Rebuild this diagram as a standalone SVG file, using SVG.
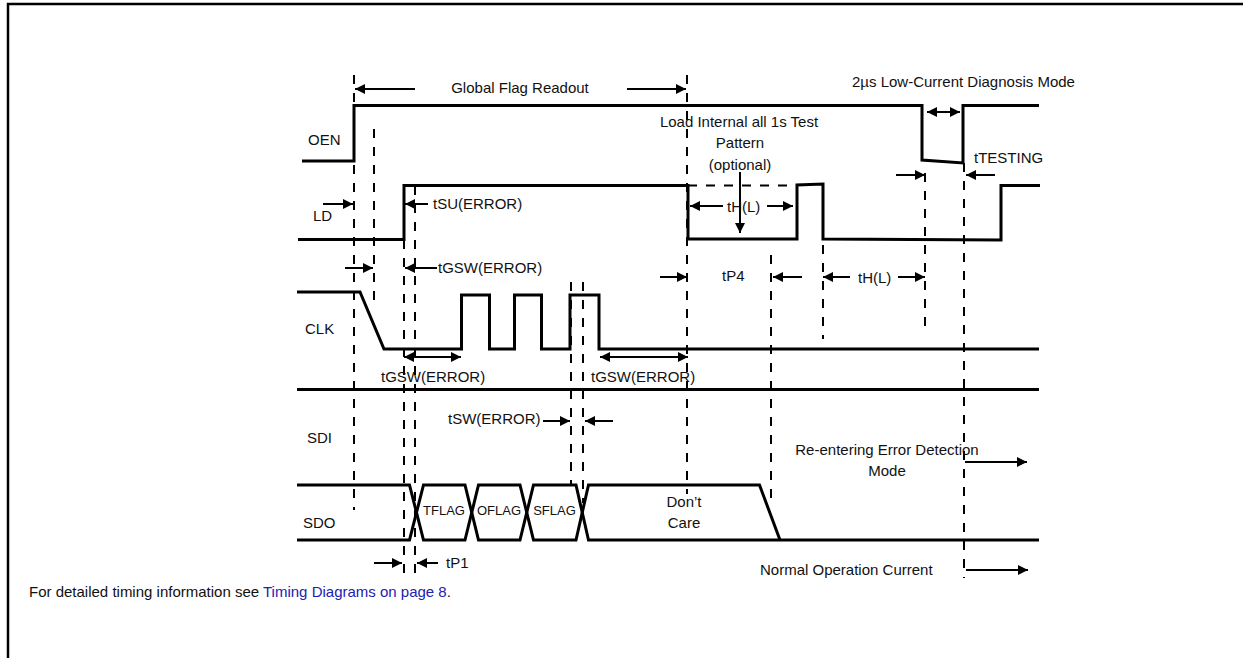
<svg xmlns="http://www.w3.org/2000/svg" width="1243" height="658" viewBox="0 0 1243 658">
<style>
.sig{fill:none;stroke:#000;stroke-width:3;stroke-linejoin:miter}
.dash{fill:none;stroke:#000;stroke-width:2;stroke-dasharray:9 9}
.arr{stroke:#000;stroke-width:2;marker-end:url(#ah)}
.dbl{stroke:#000;stroke-width:2;marker-end:url(#ah);marker-start:url(#ah)}
text{font-family:"Liberation Sans",Arial,sans-serif;font-size:15px;fill:#111}
.sm{font-size:13px}
.mid{text-anchor:middle}
.link{fill:#2222b0}
</style>
<defs>
<marker id="ah" viewBox="0 0 10 10" refX="10" refY="5" markerWidth="10" markerHeight="10" markerUnits="userSpaceOnUse" orient="auto-start-reverse">
<path d="M0,0 L10,5 L0,10 z" fill="#000"/>
</marker>
</defs>
<rect width="1243" height="658" fill="#fff"/>
<path d="M8,658 V4 H1243" fill="none" stroke="#000" stroke-width="2.5"/>

<g id="OEN">
<text x="308" y="145">OEN</text>
<path class="sig" d="M302,161 H354 V105.5 H922 V160 L963,163 V105.5 H1039"/>
</g>
<g id="LD">
<text x="313" y="221">LD</text>
<path class="sig" d="M298,239.5 H404 V185.5 H688 V239 H797 V185 L823,184 V239 L1001,240 V185.5 H1040"/>
<path class="dash" d="M688,185.5 H797" stroke-width="2.5"/>
</g>
<g id="CLK">
<text x="305" y="334">CLK</text>
<path class="sig" d="M297,292 H360 L384,349 H461.5 V295 H489.5 V349 H514.5 V295 H541.5 V349 H570 V295 H599 V349 H1039"/>
</g>
<g id="SDI">
<text x="307" y="443">SDI</text>
<path class="sig" d="M297,389.5 H1039"/>
</g>
<g id="SDO">
<text x="303" y="528">SDO</text>
<path class="sig" d="M297,485 H409.5 L423.5,540 H465 L478.5,485 H520 L533.5,540 H576 L588.5,485 H759.5 L780,540"/>
<path class="sig" d="M297,540 H409.5 L423.5,485 H465 L478.5,540 H520 L533.5,485 H576 L588.5,540 H1039"/>
<text class="sm mid" x="444" y="515">TFLAG</text>
<text class="sm mid" x="499" y="515">OFLAG</text>
<text class="sm mid" x="554.5" y="515">SFLAG</text>
<text class="mid" x="684" y="507">Don’t</text>
<text class="mid" x="684" y="528">Care</text>
</g>

<g id="guides">
<path class="dash" d="M354,75 V510"/>
<path class="dash" d="M374,129 V303"/>
<path class="dash" d="M404,240 V576"/>
<path class="dash" d="M415,186 V576"/>
<path class="dash" d="M571,282 V484"/>
<path class="dash" d="M583,282 V503"/>
<path class="dash" d="M687,75 V494"/>
<path class="dash" d="M771,255 V503"/>
<path class="dash" d="M823,245 V339"/>
<path class="dash" d="M925,173 V328"/>
<path class="dash" d="M964,163 V578"/>
</g>

<g id="connectors">
<line class="arr" x1="415" y1="89" x2="355" y2="89"/>
<line class="arr" x1="627" y1="89" x2="686" y2="89"/>
<line class="dbl" x1="927" y1="112" x2="960" y2="112"/>
<line class="arr" x1="323" y1="204" x2="353" y2="204"/>
<line class="arr" x1="428" y1="204" x2="405" y2="204"/>
<line class="arr" x1="740" y1="172" x2="740" y2="233"/>
<line class="arr" x1="723" y1="206" x2="690" y2="206"/>
<line class="arr" x1="767" y1="206" x2="793" y2="206"/>
<line class="arr" x1="896" y1="175" x2="925" y2="175"/>
<line class="arr" x1="995" y1="175" x2="966" y2="175"/>
<line class="arr" x1="345" y1="268" x2="373" y2="268"/>
<line class="arr" x1="437" y1="268" x2="405" y2="268"/>
<line class="arr" x1="660" y1="277" x2="687" y2="277"/>
<line class="arr" x1="802" y1="277" x2="773" y2="277"/>
<line class="arr" x1="850" y1="277" x2="823" y2="277"/>
<line class="arr" x1="898" y1="277" x2="925" y2="277"/>
<line class="dbl" x1="404" y1="357" x2="461" y2="357"/>
<line class="dbl" x1="600" y1="357" x2="688" y2="357"/>
<line class="arr" x1="543" y1="421" x2="570" y2="421"/>
<line class="arr" x1="613" y1="421" x2="585" y2="421"/>
<line class="arr" x1="965" y1="462" x2="1027" y2="462"/>
<line class="arr" x1="966" y1="570" x2="1028" y2="570"/>
<line class="arr" x1="374" y1="563" x2="402" y2="563"/>
<line class="arr" x1="438" y1="563" x2="417" y2="563"/>
</g>

<g id="labels">
<text class="mid" x="520" y="93">Global Flag Readout</text>
<text x="852" y="87">2µs Low-Current Diagnosis Mode</text>
<text class="mid" x="739" y="127">Load Internal all 1s Test</text>
<text class="mid" x="740" y="148">Pattern</text>
<text class="mid" x="740" y="170">(optional)</text>
<text x="974" y="163">tTESTING</text>
<text x="433" y="209">tSU(ERROR)</text>
<text x="727" y="212">tH(L)</text>
<text x="438" y="273">tGSW(ERROR)</text>
<text x="722" y="281">tP4</text>
<text x="858" y="283">tH(L)</text>
<text x="381" y="382">tGSW(ERROR)</text>
<text x="591" y="382">tGSW(ERROR)</text>
<text x="448" y="424">tSW(ERROR)</text>
<text class="mid" x="887" y="455">Re-entering Error Detection</text>
<text class="mid" x="887" y="476">Mode</text>
<text x="760" y="575">Normal Operation Current</text>
<text x="446" y="568">tP1</text>
<text x="29" y="597">For detailed timing information see <tspan class="link">Timing Diagrams on page 8</tspan>.</text>
</g>
</svg>
